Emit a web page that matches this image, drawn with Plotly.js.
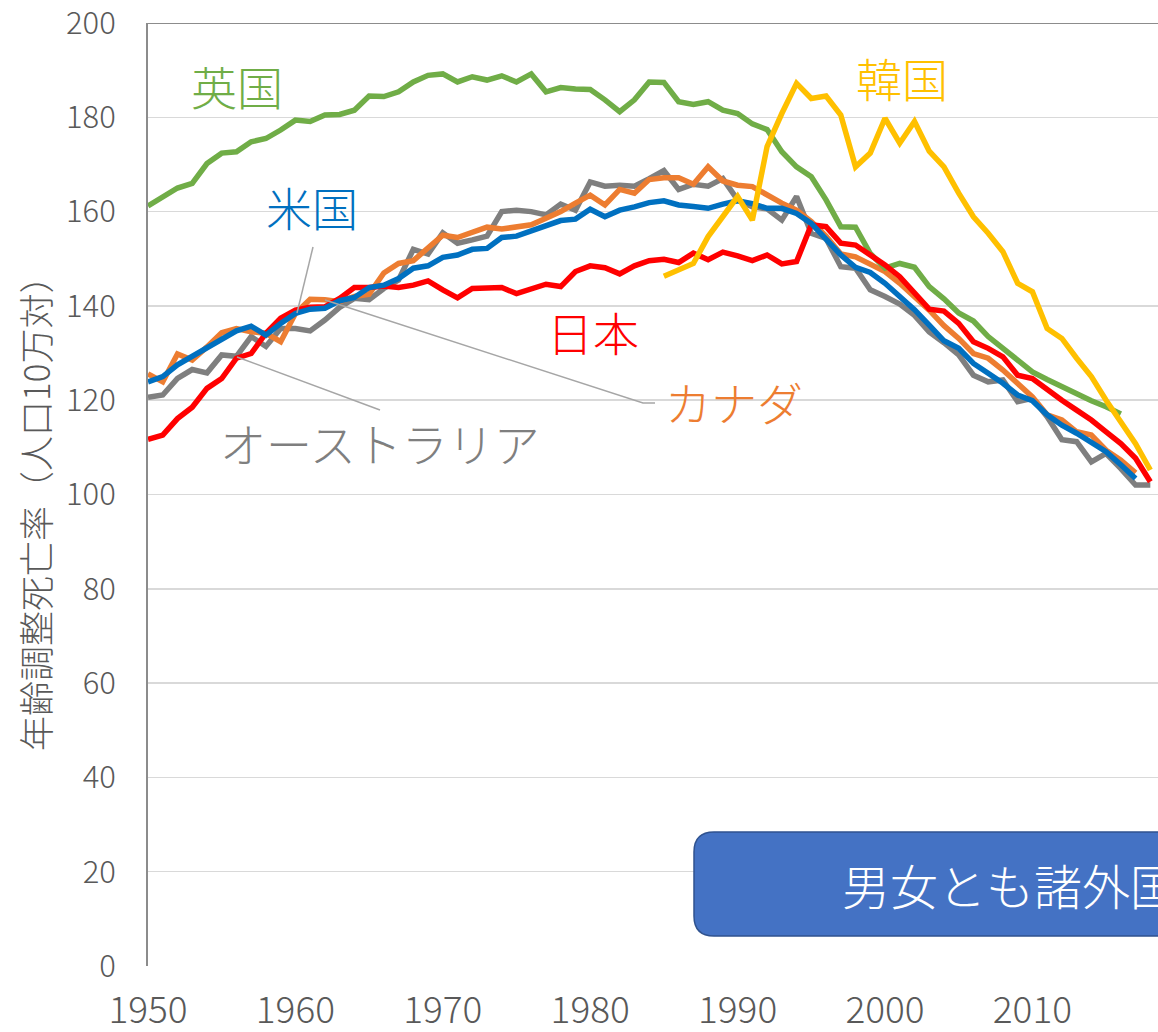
<!DOCTYPE html>
<html>
<head>
<meta charset="utf-8">
<script src="https://cdn.plot.ly/plotly-3.0.1.min.js"></script>
<style>
html,body{margin:0;padding:0;background:#fff;}
#chart{width:1158px;height:1032px;}
</style>
</head>
<body>
<div id="chart"></div>
<script>
// ---- data ----
const yearsJapan = [];
for (let y = 1950; y <= 2018; y++) yearsJapan.push(y);
const japan = [111.7,112.6,116.1,118.5,122.5,124.6,128.9,129.9,134.2,137.4,
  139.1,139.7,139.8,141.6,143.9,143.9,144.2,143.9,144.4,145.3,
  143.4,141.7,143.7,143.7,143.9,142.6,143.7,144.6,144.1,147.3,
  148.5,148.1,146.8,148.5,149.6,149.9,149.2,151.2,149.8,151.4,
  150.6,149.6,150.8,148.9,149.4,157.2,156.8,153.3,152.9,150.8,
  148.7,146.2,142.6,139.3,138.9,136.3,132.4,131.0,129.2,125.3,
  124.6,122.2,120.0,117.9,115.8,113.3,110.8,107.7,102.7];

const yearsUS = [];
for (let y = 1950; y <= 2017; y++) yearsUS.push(y);
const usa = [123.9,125.0,127.5,129.3,131.0,132.9,134.7,135.7,133.8,136.3,
  138.4,139.3,139.5,141.1,141.8,143.9,144.4,145.8,148.0,148.5,
  150.3,150.8,152.0,152.2,154.5,154.8,156.0,156.9,158.1,158.4,
  160.5,158.9,160.3,161.0,161.9,162.3,161.4,161.1,160.7,161.6,
  162.3,161.7,160.7,160.7,159.6,157.5,154.3,150.8,148.2,147.1,
  144.8,142.0,139.2,135.9,132.6,131.0,127.8,125.7,123.6,121.1,
  119.9,116.9,114.7,113.0,111.1,109.1,106.3,103.4];

const yearsUK = [];
for (let y = 1950; y <= 2016; y++) yearsUK.push(y);
const uk = [161.2,163.0,165.0,166.0,170.2,172.4,172.7,174.8,175.5,177.3,
  179.4,179.1,180.5,180.6,181.5,184.5,184.4,185.4,187.5,188.9,
  189.2,187.5,188.6,187.9,188.8,187.5,189.2,185.4,186.3,186.0,
  185.9,183.7,181.2,183.7,187.5,187.4,183.3,182.7,183.3,181.5,
  180.8,178.6,177.4,172.7,169.5,167.4,162.5,156.8,156.7,151.1,
  148.0,149.0,148.2,144.1,141.5,138.5,136.8,133.5,131.0,128.3,
  126.0,124.4,122.9,121.1,119.9,118.6,117.1];

const yearsCanada = [];
for (let y = 1950; y <= 2017; y++) yearsCanada.push(y);
const canada = [125.6,123.9,129.8,128.5,131.3,134.3,135.2,134.5,134.2,132.4,
  138.4,141.4,141.3,140.9,142.0,142.5,147.0,149.0,149.6,152.4,
  155.0,154.5,155.5,156.7,156.3,156.7,157.2,158.6,160.0,161.8,
  163.5,161.4,164.7,163.9,166.8,167.2,167.2,165.8,169.5,166.5,
  165.6,165.3,163.5,161.8,160.3,157.9,154.8,151.0,150.4,149.0,
  147.3,144.8,142.0,139.1,135.8,133.1,129.9,128.9,126.4,123.6,
  120.7,116.9,115.8,113.3,112.6,109.4,107.3,104.6];

const yearsAustralia = [];
for (let y = 1950; y <= 2018; y++) yearsAustralia.push(y);
const australia = [120.6,121.1,124.6,126.5,125.8,129.6,129.3,133.5,131.4,135.2,
  135.2,134.7,137.0,139.7,141.6,141.3,143.7,145.5,152.0,151.0,
  155.5,153.3,154.0,154.8,160.0,160.3,160.0,159.3,161.6,160.3,
  166.3,165.4,165.6,165.4,167.0,168.7,164.7,165.8,165.4,167.0,
  162.5,161.0,160.6,158.2,163.2,155.4,154.3,148.3,148.0,143.4,
  142.0,140.4,138.0,134.5,132.2,129.6,125.3,123.9,124.3,119.7,
  120.4,116.5,111.6,111.2,106.9,108.7,105.5,102.0,102.0];

const yearsKorea = [];
for (let y = 1985; y <= 2018; y++) yearsKorea.push(y);
const korea = [146.3,147.6,149.0,154.7,159.0,163.2,158.2,173.8,180.8,187.2,
  184.0,184.5,180.5,169.5,172.4,179.8,174.5,179.1,172.8,169.5,
  163.9,158.9,155.4,151.5,144.8,143.0,135.2,133.1,128.9,125.0,
  120.0,115.4,110.8,105.2];

const xTickVals = [1950,1960,1970,1980,1990,2000,2010];
const yTickVals = [0,20,40,60,80,100,120,140,160,180,200];

const labelNames = ['英国','米国','韓国','日本','カナダ','オーストラリア'];
const yTitle = '年齢調整死亡率（人口10万対）';
const boxText = '男女とも諸外国';

// ---- layout helpers (pixel -> data) ----
const L = 148, T = 23, W = 1010, H = 943;
const PXY = 14.74;                  // px per year
const X0 = 1950, X1 = 1950 + W / PXY;
const PXV = H / 200;                // px per unit
function dx(px) { return X0 + (px - L) / PXY; }
function dy(py) { return (T + H - py) / PXV; }

const LW = 5.5;
function tr(x, y, color, name) {
  return {x: x, y: y, type: 'scatter', mode: 'lines', name: name,
    line: {color: color, width: LW, shape: 'linear'}, hoverinfo: 'skip'};
}
const data = [
  tr(yearsAustralia, australia, '#7f7f7f', 'オーストラリア'),
  tr(yearsCanada, canada, '#ed7d31', 'カナダ'),
  tr(yearsUK, uk, '#70ad47', '英国'),
  tr(yearsJapan, japan, '#ff0000', '日本'),
  tr(yearsUS, usa, '#0070c0', '米国'),
  tr(yearsKorea, korea, '#ffc000', '韓国')
];

const jp = '"Noto Sans CJK JP", "Noto Sans", sans-serif';

function lab(text, px, py, color) {
  return {text: text, x: dx(px), y: dy(py), xref: 'x', yref: 'y', showarrow: false,
    xanchor: 'center', yanchor: 'middle',
    font: {family: jp, size: 46, color: color, weight: 300}};
}

const annotations = [
  lab(labelNames[0], 237, 85, '#70ad47'),
  lab(labelNames[1], 312, 206, '#0070c0'),
  lab(labelNames[2], 902, 77, '#ffc000'),
  lab(labelNames[3], 593, 331, '#ff0000'),
  lab(labelNames[4], 734, 401, '#ed7d31'),
  lab(labelNames[5], 380, 442, '#7f7f7f'),
  {text: yTitle, xref: 'paper', yref: 'paper', x: (35 - L) / W, y: (T + H - 505) / H,
   showarrow: false, textangle: -90, xanchor: 'center', yanchor: 'middle',
   font: {family: jp, size: 35, color: '#595959', weight: 300}},
  {text: boxText, x: dx(840), y: dy(884), xref: 'x', yref: 'y', showarrow: false,
   xanchor: 'left', yanchor: 'middle',
   font: {family: jp, size: 48, color: '#ffffff', weight: 300}}
];

const r = 20;
const bx0 = dx(694), bx1 = dx(1300), by0 = dy(936), by1 = dy(832);
const rx = r / PXY, ry = r / PXV;
const boxPath = 'M ' + (bx0 + rx) + ',' + by1 + ' L ' + bx1 + ',' + by1 +
  ' L ' + bx1 + ',' + by0 + ' L ' + (bx0 + rx) + ',' + by0 +
  ' Q ' + bx0 + ',' + by0 + ' ' + bx0 + ',' + (by0 + ry) +
  ' L ' + bx0 + ',' + (by1 - ry) +
  ' Q ' + bx0 + ',' + by1 + ' ' + (bx0 + rx) + ',' + by1 + ' Z';

const lead = {color: '#a6a6a6', width: 1.5};
const shapes = [
  {type: 'line', xref: 'paper', yref: 'y', x0: 0, x1: 1, y0: 200, y1: 200,
   line: {color: '#8c8c8c', width: 2}, layer: 'below'},
  {type: 'line', xref: 'x', yref: 'y', x0: dx(313), y0: dy(247), x1: dx(297), y1: dy(313), line: lead},
  {type: 'path', xref: 'x', yref: 'y',
   path: 'M ' + dx(325) + ',' + dy(300) + ' L ' + dx(643) + ',' + dy(403) + ' L ' + dx(655) + ',' + dy(403),
   line: lead},
  {type: 'line', xref: 'x', yref: 'y', x0: dx(237), y0: dy(357), x1: dx(380), y1: dy(410), line: lead},
  {type: 'path', xref: 'x', yref: 'y', path: boxPath, fillcolor: '#4472c4',
   line: {color: '#2f528f', width: 1.5}, layer: 'above'}
];

const layout = {
  width: 1158, height: 1032,
  margin: {l: L, r: 1158 - L - W, t: T, b: 1032 - T - H, pad: 0},
  paper_bgcolor: '#ffffff', plot_bgcolor: '#ffffff',
  showlegend: false,
  xaxis: {range: [X0, X1], tickvals: xTickVals, ticktext: xTickVals.map(String),
    showgrid: false, zeroline: false, showline: false, ticks: '',
    ticklabelstandoff: 19, ticklabeloverflow: 'allow',
    tickfont: {family: jp, size: 37, color: '#595959', weight: 300}},
  yaxis: {range: [0, 200], tickvals: yTickVals, ticktext: yTickVals.map(String),
    showgrid: true, gridcolor: '#d9d9d9', gridwidth: 1.5, zeroline: false,
    showline: true, linecolor: '#8c8c8c', linewidth: 2, ticks: '',
    ticklabelstandoff: 24, ticklabeloverflow: 'allow',
    tickfont: {family: jp, size: 31, color: '#595959', weight: 300}},
  annotations: annotations,
  shapes: shapes
};

Plotly.newPlot('chart', data, layout, {displayModeBar: false, staticPlot: true});
</script>
</body>
</html>
